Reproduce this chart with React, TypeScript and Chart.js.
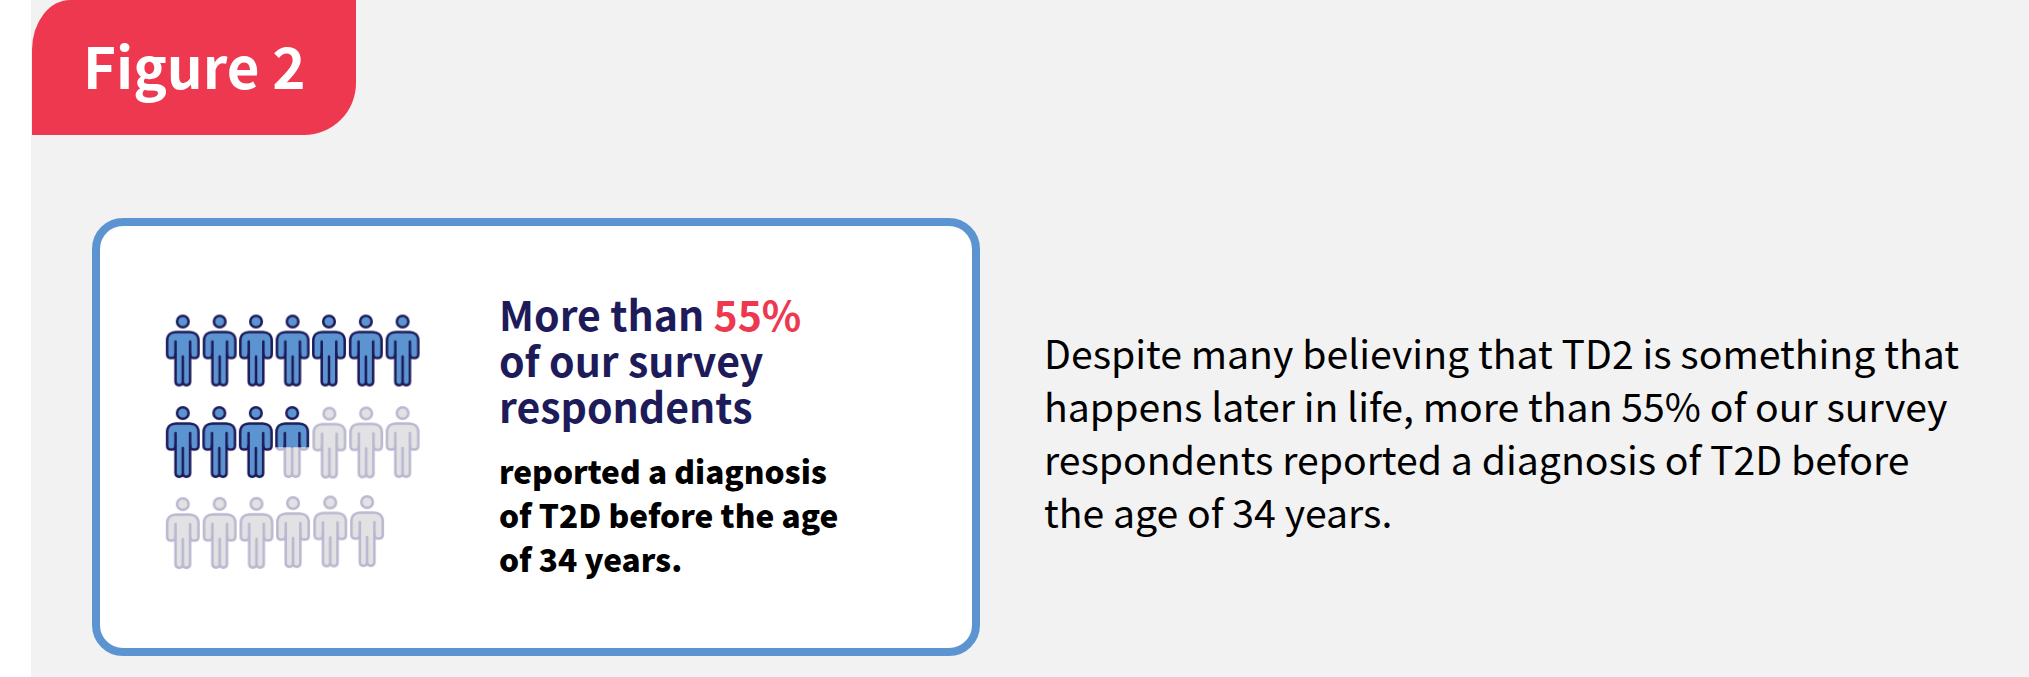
import React, { useEffect, useRef } from "react";
import { Chart, registerables } from "chart.js";

Chart.register(...registerables);

// Filled share of each person icon, one array per row.
const rowOneFill = [1, 1, 1, 1, 1, 1, 1];
const rowTwoFill = [1, 1, 1, 0.57, 0, 0, 0];
const rowThreeFill = [0, 0, 0, 0, 0, 0];

// Column and row slot of each icon; the hand-placed artwork drifts a little.
const rowOneCols = [1, 2.006, 3, 3.997, 4.99, 5.997, 7];
const rowTwoCols = [1, 1.997, 2.994, 3.985, 5, 6.006, 7];
const rowThreeCols = [1, 2.006, 3.012, 4.009, 5.024, 6.03];
const rowOneRows = [1, 1, 1, 1, 1, 1, 1];
const rowTwoRows = [2, 2, 2, 2, 2.007, 2.004, 2];
const rowThreeRows = [2.996, 2.993, 2.993, 2.985, 2.978, 2.974];

const figureLabel = "Figure 2";
const headingLines = [["More than ", "55%"], ["of our survey"], ["respondents"]];
const subLines = ["reported a diagnosis", "of T2D before the age", "of 34 years."];
const bodyLines = [
  "Despite many believing that TD2 is something that",
  "happens later in life, more than 55% of our survey",
  "respondents reported a diagnosis of T2D before",
  "the age of 34 years.",
];

const FONT = '"Noto Sans CJK SC", "Noto Sans", sans-serif';
const RED = "#ee384f";
const NAVY = "#1e1b5a";
const BLUE = "#5b94d0";
const PALE_FILL = "#e2e1e3";
const PALE_LINE = "#b9b8d0";
const PAGE = "#f2f2f2";

const ICON_W = 40;
const ICON_H = 76;
const HEAD_Y = 9;

function tracePerson(c: CanvasRenderingContext2D, fill: string, line: string) {
  const cx = ICON_W / 2;
  c.save();
  c.translate(cx, HEAD_Y);
  c.lineWidth = 2.5;
  c.lineJoin = "round";
  c.lineCap = "round";
  c.strokeStyle = line;
  c.fillStyle = fill;

  c.beginPath();
  c.arc(0, 0, 5.8, 0, Math.PI * 2);
  c.fill();
  c.stroke();

  const sx = 15.7; // shoulder half-width
  const lx = 7.3; // leg outer half-width
  const top = 10.4;
  const hand = 36.6;
  c.beginPath();
  c.moveTo(-7, top);
  c.lineTo(7, top);
  c.bezierCurveTo(12, top, sx, 13.5, sx, 19);
  c.lineTo(sx, 32.5);
  c.bezierCurveTo(sx, 35.5, 13.5, hand, 11.5, hand);
  c.bezierCurveTo(9, hand, lx, 35.5, lx, 32.5);
  c.lineTo(lx, 60);
  c.bezierCurveTo(lx, 64.8, 0.3, 64.8, 0, 60.5);
  c.bezierCurveTo(-0.3, 64.8, -lx, 64.8, -lx, 60);
  c.lineTo(-lx, 32.5);
  c.bezierCurveTo(-lx, 35.5, -9, hand, -11.5, hand);
  c.bezierCurveTo(-13.5, hand, -sx, 35.5, -sx, 32.5);
  c.lineTo(-sx, 19);
  c.bezierCurveTo(-sx, 13.5, -12, top, -7, top);
  c.closePath();
  c.fill();
  c.stroke();

  // Armpit slits and the split between the legs.
  c.beginPath();
  c.moveTo(-lx, 20);
  c.lineTo(-lx, 33);
  c.moveTo(lx, 20);
  c.lineTo(lx, 33);
  c.moveTo(0, 35);
  c.lineTo(0, 60);
  c.stroke();
  c.restore();
}

const iconCache = new Map<number, HTMLCanvasElement>();

// Renders one person: the pale figure below, the blue one clipped to its share.
function personIcon(share: number): HTMLCanvasElement {
  const cached = iconCache.get(share);
  if (cached) return cached;
  const canvas = document.createElement("canvas");
  canvas.width = ICON_W;
  canvas.height = ICON_H;
  const c = canvas.getContext("2d")!;
  if (share < 1) tracePerson(c, PALE_FILL, PALE_LINE);
  if (share > 0) {
    c.save();
    c.beginPath();
    c.rect(0, 0, ICON_W, ICON_H * share);
    c.clip();
    c.clearRect(0, 0, ICON_W, ICON_H);
    tracePerson(c, BLUE, NAVY);
    c.restore();
  }
  iconCache.set(share, canvas);
  return canvas;
}

function iconRow(cols: number[], rows: number[], fills: number[]) {
  return cols.map((x, i) => ({ x, y: rows[i], share: fills[i] }));
}

function Line({ top, left, size, height, weight, color, children }: any) {
  return (
    <div
      style={{
        position: "absolute",
        top,
        left,
        height,
        fontFamily: FONT,
        fontSize: size,
        lineHeight: `${height}px`,
        fontWeight: weight,
        color,
        whiteSpace: "pre",
      }}
    >
      {children}
    </div>
  );
}

export default function App() {
  const ref = useRef<HTMLCanvasElement>(null);

  useEffect(() => {
    const makeSet = (label: string, data: any[]) => ({
      label,
      data,
      pointRadius: 1,
      pointHoverRadius: 1,
      clip: false as const,
      pointStyle: (ctx: any) => personIcon(ctx.raw ? ctx.raw.share : 0),
    });
    const chart = new Chart(ref.current!, {
      type: "scatter",
      data: {
        datasets: [
          makeSet("Row 1", iconRow(rowOneCols, rowOneRows, rowOneFill)),
          makeSet("Row 2", iconRow(rowTwoCols, rowTwoRows, rowTwoFill)),
          makeSet("Row 3", iconRow(rowThreeCols, rowThreeRows, rowThreeFill)),
        ],
      },
      options: {
        animation: false,
        responsive: false,
        layout: { padding: 0 },
        plugins: { legend: { display: false }, tooltip: { enabled: false } },
        events: [],
        scales: {
          x: { type: "linear", display: false, min: -0.113, max: 8.512 },
          y: { type: "linear", display: false, reverse: true, min: 0.36, max: 3.596 },
        },
      },
    });
    return () => chart.destroy();
  }, []);

  return (
    <div style={{ position: "fixed", left: 0, top: 0, width: 2029, height: 677, background: "#fff", overflow: "hidden" }}>
      <div style={{ position: "absolute", left: 31, top: 0, width: 1998, height: 677, background: PAGE }} />
      <div
        style={{
          position: "absolute",
          left: 32,
          top: 0,
          width: 324,
          height: 135,
          background: RED,
          borderTopLeftRadius: "38px 50px",
          borderBottomRightRadius: 52,
        }}
      />
      <Line top={23} left={83} size={56.4} height={84} weight={700} color="#fff">
        {figureLabel}
      </Line>
      <div
        style={{
          position: "absolute",
          left: 92,
          top: 218,
          width: 888,
          height: 438,
          boxSizing: "border-box",
          border: `8px solid ${BLUE}`,
          borderRadius: 31,
          background: "#fff",
        }}
      />
      <canvas
        ref={ref}
        width={320}
        height={300}
        style={{ position: "absolute", left: 140, top: 290, width: 320, height: 300 }}
      />
      {headingLines.map((parts, i) => (
        <Line key={i} top={290 + i * 46} left={499} size={41} height={46} weight={700} color={NAVY}>
          {parts[0]}
          {parts[1] ? <span style={{ color: RED, display: "inline-block", height: 46, lineHeight: "46px" }}>{parts[1]}</span> : null}
        </Line>
      ))}
      {subLines.map((text, i) => (
        <Line key={i} top={447.5 + i * 44.2} left={499} size={31.6} height={44} weight={900} color="#000">
          {text}
        </Line>
      ))}
      {bodyLines.map((text, i) => (
        <Line key={i} top={325.5 + i * 53.3} left={1044} size={39.2} height={53} weight={400} color="#000">
          {text}
        </Line>
      ))}
    </div>
  );
}
